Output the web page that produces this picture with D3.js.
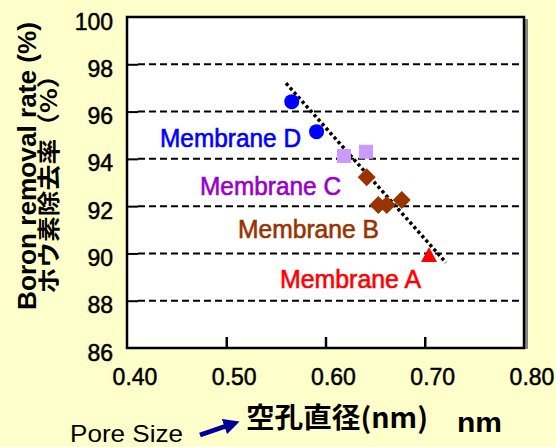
<!DOCTYPE html>
<html><head><meta charset="utf-8">
<script src="https://cdn.jsdelivr.net/npm/d3@7"></script>
<style>html,body{margin:0;padding:0;background:#ffffcc;}svg{display:block;}</style>
</head><body>
<script>
// Data
const xTicks = [0.40, 0.50, 0.60, 0.70, 0.80];
const yTicks = [86, 88, 90, 92, 94, 96, 98, 100];
const membraneD = [[0.566, 96.42], [0.591, 95.15]];
const membraneC = [[0.6186, 94.12], [0.6408, 94.30]];
const membraneB = [[0.6415, 93.22], [0.6532, 92.05], [0.6617, 92.05], [0.6768, 92.26]];
const membraneA = [[0.7043, 89.85]];
const trendLine = [[0.5602, 97.20], [0.7214, 89.61]];
const labels = [
  {text: "Membrane D", x: 0.4333, y: 94.50, color: "#0000ff"},
  {text: "Membrane C", x: 0.4736, y: 92.47, color: "#9900cc"},
  {text: "Membrane B", x: 0.5118, y: 90.64, color: "#993300"},
  {text: "Membrane A", x: 0.5542, y: 88.52, color: "#ff0000"}
];

const W = 556, H = 447;
const svg = d3.select("body").append("svg").attr("width", W).attr("height", H);
svg.append("rect").attr("width", W).attr("height", H).attr("fill", "#ffffcc");

const x = d3.scaleLinear().domain([0.4, 0.8]).range([127, 524]);
const y = d3.scaleLinear().domain([86, 100]).range([348, 17]);

// plot background + shadow
svg.append("rect").attr("x", x(0.8) + 1).attr("y", y(100) + 2).attr("width", 3).attr("height", y(86) - y(100) - 1).attr("fill", "#888");
svg.append("rect").attr("x", x(0.4)).attr("y", y(100)).attr("width", x(0.8) - x(0.4)).attr("height", y(86) - y(100)).attr("fill", "#ffffff");

// gridlines (dashed)
svg.append("g").selectAll("line").data(yTicks.filter(d => d > 86 && d < 100)).join("line")
  .attr("x1", x(0.4) + 11).attr("x2", x(0.8)).attr("y1", d => y(d)).attr("y2", d => y(d))
  .attr("stroke", "#000").attr("stroke-width", 2).attr("stroke-dasharray", "7,4");

// axes with inward ticks
const yAxis = d3.axisLeft(y).tickValues(yTicks.filter(d => d > 86 && d < 100)).tickSize(-11).tickFormat("");
const gy = svg.append("g").attr("transform", `translate(${x(0.4)},0)`).call(yAxis);
gy.select(".domain").remove();
gy.selectAll("line").attr("stroke", "#000").attr("stroke-width", 2);

const xAxis = d3.axisBottom(x).tickValues(xTicks.filter(d => d > 0.4 && d < 0.8)).tickSize(-11).tickFormat("");
const gx = svg.append("g").attr("transform", `translate(0,${y(86)})`).call(xAxis);
gx.select(".domain").remove();
gx.selectAll("line").attr("stroke", "#000").attr("stroke-width", 2.5);

// frame
svg.append("rect").attr("x", x(0.4)).attr("y", y(100)).attr("width", x(0.8) - x(0.4)).attr("height", y(86) - y(100))
  .attr("fill", "none").attr("stroke", "#000").attr("stroke-width", 2.5);

// tick labels
svg.append("g").selectAll("text").data(yTicks).join("text")
  .attr("x", 113).attr("y", d => y(d) + 12.5).attr("text-anchor", "end")
  .attr("font-family", "Liberation Sans, Arial, sans-serif").attr("font-size", 23).attr("fill", "#000")
  .attr("stroke", "#000").attr("stroke-width", 0.5)
  .text(d => d);
svg.append("g").selectAll("text").data(xTicks).join("text")
  .attr("x", d => x(d) + 8).attr("y", 385).attr("text-anchor", "middle")
  .attr("font-family", "Liberation Sans, Arial, sans-serif").attr("font-size", 23).attr("fill", "#000")
  .attr("stroke", "#000").attr("stroke-width", 0.5)
  .text(d => d.toFixed(2));

// trend line (dotted)
svg.append("path").datum(trendLine)
  .attr("d", d3.line().x(d => x(d[0])).y(d => y(d[1])))
  .attr("fill", "none").attr("stroke", "#000").attr("stroke-width", 3.5).attr("stroke-dasharray", "3.2,2.8");

// markers
svg.append("g").selectAll("circle").data(membraneD).join("circle")
  .attr("cx", d => x(d[0])).attr("cy", d => y(d[1])).attr("r", 7.5).attr("fill", "#0000ff");
svg.append("g").selectAll("rect").data(membraneC).join("rect")
  .attr("x", d => x(d[0]) - 7).attr("y", d => y(d[1]) - 7).attr("width", 14).attr("height", 14).attr("fill", "#cc99ff");
svg.append("g").selectAll("path").data(membraneB).join("path")
  .attr("transform", d => `translate(${x(d[0])},${y(d[1])})`)
  .attr("d", "M0,-9L9,0L0,9L-9,0Z").attr("fill", "#993300");
svg.append("g").selectAll("path").data(membraneA).join("path")
  .attr("transform", d => `translate(${x(d[0])},${y(d[1])})`)
  .attr("d", "M0,-10L8,5L-8,5Z").attr("fill", "#ff0000");

// membrane labels
svg.append("g").selectAll("text").data(labels).join("text")
  .attr("x", d => x(d.x)).attr("y", d => y(d.y)).attr("text-anchor", "start")
  .attr("font-family", "Liberation Sans, Arial, sans-serif").attr("font-size", 25)
  .attr("textLength", 141).attr("lengthAdjust", "spacingAndGlyphs")
  .attr("fill", d => d.color).attr("stroke", d => d.color).attr("stroke-width", 0.6)
  .text(d => d.text);

// y axis title
svg.append("text").attr("transform", "translate(36,166) rotate(-90)").attr("text-anchor", "middle")
  .attr("font-family", "Liberation Sans, Arial, sans-serif").attr("font-weight", "bold").attr("font-size", 25)
  .attr("textLength", 288).attr("lengthAdjust", "spacingAndGlyphs")
  .text("Boron removal rate (%)");
svg.append("text").attr("transform", "translate(57,178) rotate(-90)").attr("text-anchor", "middle")
  .attr("font-family", "Noto Sans CJK JP, sans-serif").attr("font-weight", "bold").attr("font-size", 23)
  .attr("textLength", 231).attr("lengthAdjust", "spacingAndGlyphs")
  .text("ホウ素除去率（%）");

// bottom labels
svg.append("text").attr("x", 70).attr("y", 442).attr("font-family", "Liberation Sans, Arial, sans-serif")
  .attr("font-size", 24).attr("textLength", 113).attr("lengthAdjust", "spacingAndGlyphs").attr("fill", "#000")
  .text("Pore Size");
svg.append("defs").append("marker").attr("id", "ah").attr("viewBox", "0 0 10 10").attr("refX", 5).attr("refY", 5)
  .attr("markerWidth", 3.2).attr("markerHeight", 3.2).attr("orient", "auto")
  .append("path").attr("d", "M0,0L10,5L0,10Z").attr("fill", "#000099");
svg.append("line").attr("x1", 200).attr("y1", 435).attr("x2", 232).attr("y2", 424)
  .attr("stroke", "#000099").attr("stroke-width", 5).attr("marker-end", "url(#ah)");
svg.append("text").attr("x", 246).attr("y", 428).attr("font-family", "Noto Sans CJK JP, sans-serif")
  .attr("font-weight", "bold").attr("font-size", 28).attr("textLength", 182).attr("lengthAdjust", "spacingAndGlyphs")
  .attr("fill", "#000").text("空孔直径(nm)");
svg.append("text").attr("x", 457).attr("y", 432).attr("font-family", "Liberation Sans, Arial, sans-serif")
  .attr("font-weight", "bold").attr("font-size", 28).attr("textLength", 45).attr("lengthAdjust", "spacingAndGlyphs")
  .attr("fill", "#000").text("nm");
</script>
</body></html>
